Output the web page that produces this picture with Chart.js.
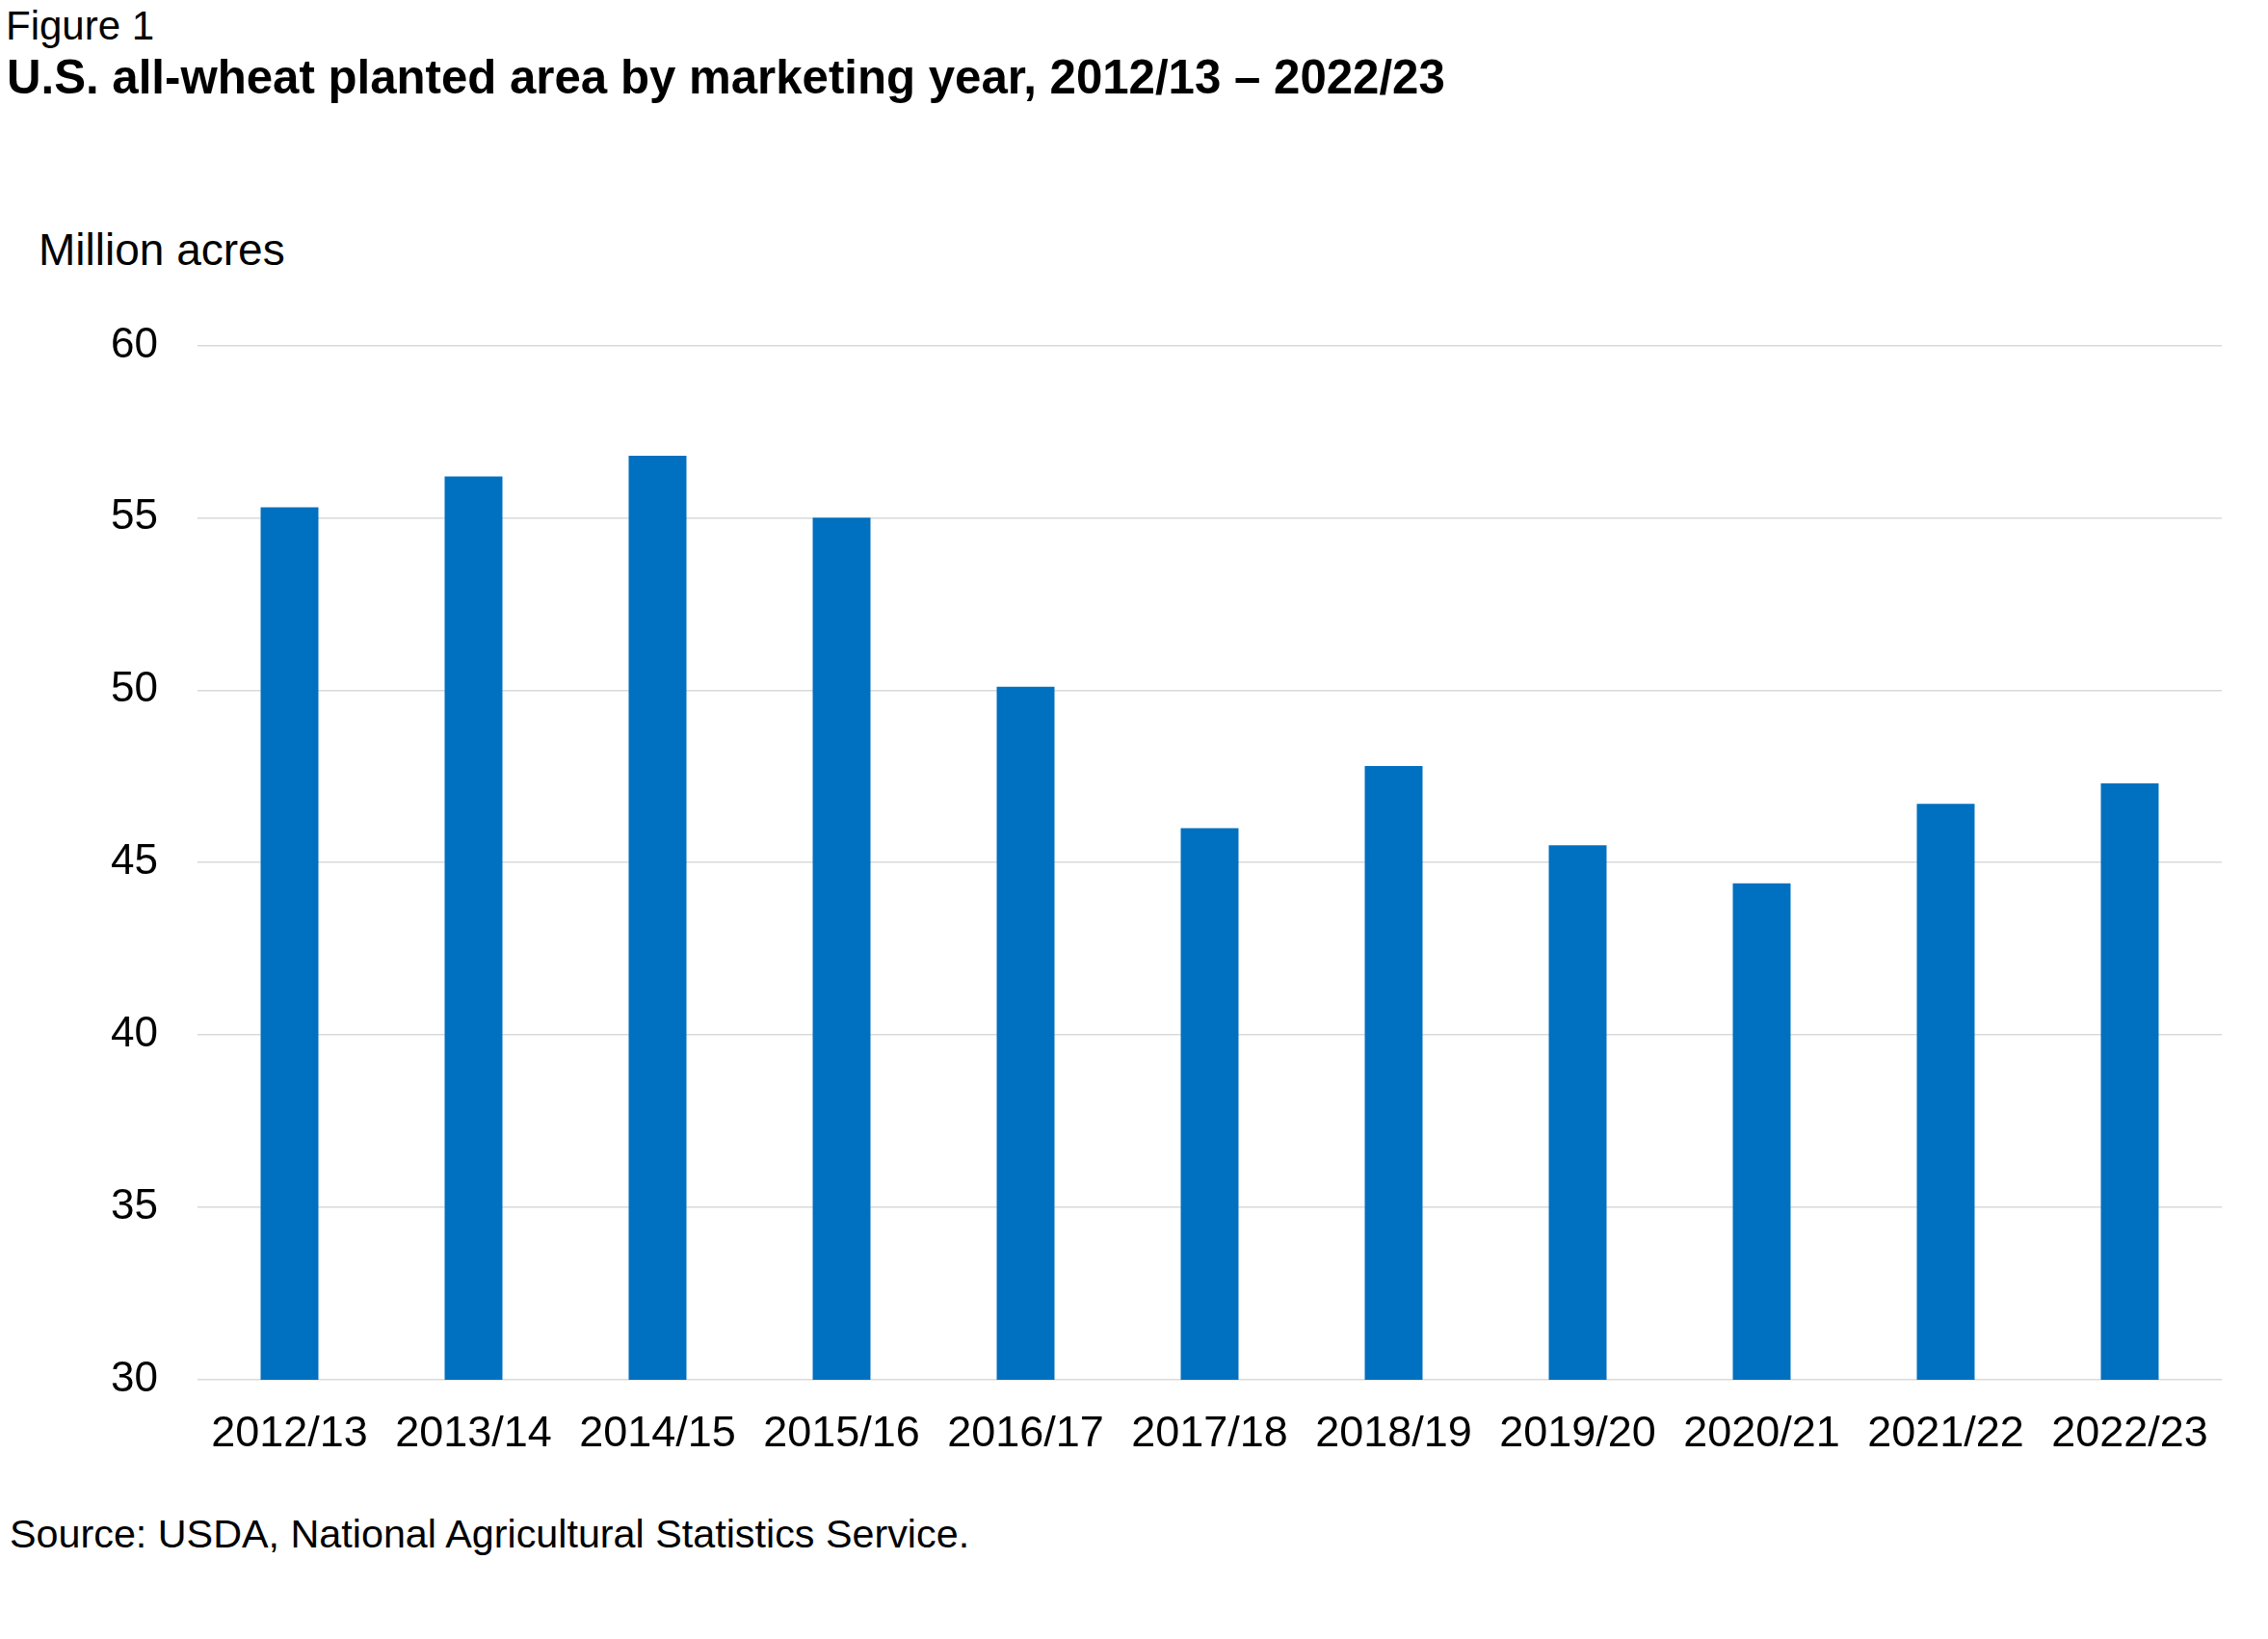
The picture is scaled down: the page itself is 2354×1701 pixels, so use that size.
<!DOCTYPE html>
<html>
<head>
<meta charset="utf-8">
<title>U.S. all-wheat planted area</title>
<script src="https://cdn.jsdelivr.net/npm/chart.js@4"></script>
<style>
  html,body{margin:0;padding:0;background:#fff;}
  body{width:2354px;height:1701px;position:relative;overflow:hidden;font-family:"Liberation Sans",Arial,sans-serif;color:#000;}
  .txt{position:absolute;white-space:nowrap;line-height:1;}
  #fig{left:6px;top:6px;font-size:42px;}
  #title{left:7px;top:55px;font-size:49.2px;font-weight:bold;}
  #unit{left:40px;top:236px;font-size:46px;}
  #source{left:10px;top:1572px;font-size:41.3px;}
  #wrap{position:absolute;left:0;top:291px;width:2354px;height:1250px;}
</style>
</head>
<body>
<div class="txt" id="fig">Figure 1</div>
<div class="txt" id="title">U.S. all-wheat planted area by marketing year, 2012/13 – 2022/23</div>
<div class="txt" id="unit">Million acres</div>
<div class="txt" id="source">Source: USDA, National Agricultural Statistics Service.</div>
<div id="wrap"><canvas id="chart" width="2354" height="1250"></canvas></div>

<script>
/* ---------- data ---------- */
const years = ['2012/13','2013/14','2014/15','2015/16','2016/17','2017/18','2018/19','2019/20','2020/21','2021/22','2022/23'];
const plantedArea = [55.3, 56.2, 56.8, 55.0, 50.1, 46.0, 47.8, 45.5, 44.4, 46.7, 47.3];
const yTicks = [30, 35, 40, 45, 50, 55, 60];

/* ---------- chart ---------- */
const FONT = '"Liberation Sans", Arial, sans-serif';

new Chart(document.getElementById('chart'), {
  type: 'bar',
  data: {
    labels: years,
    datasets: [{
      data: plantedArea,
      backgroundColor: '#0070C0',
      borderWidth: 0,
      categoryPercentage: 1,
      barPercentage: 0.314,
    }]
  },
  options: {
    responsive: false,
    animation: false,
    devicePixelRatio: 1,
    layout: { padding: { top: 0, right: 48, left: 0, bottom: 0 } },
    plugins: { legend: { display: false }, tooltip: { enabled: false } },
    scales: {
      x: {
        grid: { display: false, drawTicks: false },
        border: { display: false },
        ticks: { color: '#000', font: { family: FONT, size: 45 }, padding: 30, maxRotation: 0, autoSkip: false },
        afterFit: s => { s.height = 109; },
      },
      y: {
        min: yTicks[0],
        max: yTicks[yTicks.length - 1],
        afterBuildTicks: s => { s.ticks = yTicks.map(v => ({ value: v })); },
        grid: { color: '#d9d9d9', lineWidth: 1.5, drawTicks: false },
        border: { display: false },
        ticks: { color: '#000', font: { family: FONT, size: 44 }, padding: 41 },
        afterFit: s => { s.width = 205; },
      }
    }
  }
});
</script>
</body>
</html>
